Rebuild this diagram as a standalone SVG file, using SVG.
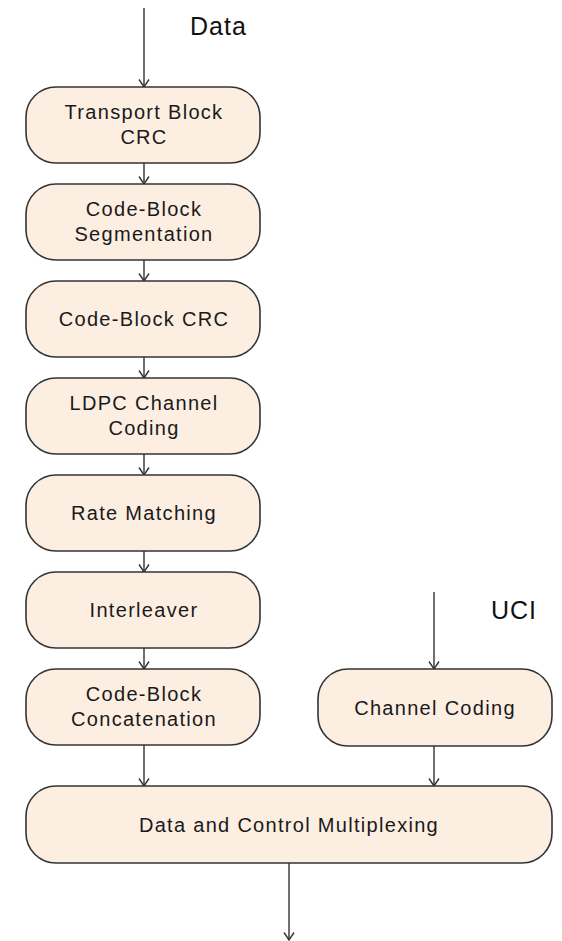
<svg xmlns="http://www.w3.org/2000/svg" width="562" height="941" viewBox="0 0 562 941">
<style>
.box{fill:#fdeee2;stroke:#333;stroke-width:1.6}
.t{font-family:"Liberation Sans",Arial,sans-serif;font-size:20px;letter-spacing:1.3px;fill:#1a1a1a;text-anchor:middle}
.lbl{font-family:"Liberation Sans",Arial,sans-serif;font-size:25px;letter-spacing:1px;fill:#111}
.c{stroke:#333;stroke-width:1.4;fill:none;marker-end:url(#ah)}
</style>
<defs>
<marker id="ah" markerWidth="10" markerHeight="12" refX="8.5" refY="6" markerUnits="userSpaceOnUse" orient="auto" viewBox="0 0 10 12">
<path d="M1,1 L8.5,6 L1,11" fill="none" stroke="#333" stroke-width="1.4"/>
</marker>
</defs>
<rect width="562" height="941" fill="#fff"/>
<text class="lbl" x="190" y="35">Data</text>
<text class="lbl" x="491" y="619">UCI</text>
<g id="connectors">
<line class="c" x1="144" y1="8" x2="144" y2="87"/>
<line class="c" x1="144" y1="163" x2="144" y2="184"/>
<line class="c" x1="144" y1="260" x2="144" y2="281"/>
<line class="c" x1="144" y1="357" x2="144" y2="378"/>
<line class="c" x1="144" y1="454" x2="144" y2="475"/>
<line class="c" x1="144" y1="551" x2="144" y2="572"/>
<line class="c" x1="144" y1="648" x2="144" y2="669"/>
<line class="c" x1="434" y1="592" x2="434" y2="669"/>
<line class="c" x1="144" y1="745" x2="144" y2="786"/>
<line class="c" x1="434" y1="746" x2="434" y2="786"/>
<line class="c" x1="289" y1="863" x2="289" y2="940"/>
</g>
<g id="n1"><rect class="box" x="26" y="87" width="234" height="76" rx="30"/><text class="t" x="144" y="119">Transport Block</text><text class="t" x="144" y="144">CRC</text></g>
<g id="n2"><rect class="box" x="26" y="184" width="234" height="76" rx="30"/><text class="t" x="144" y="216">Code-Block</text><text class="t" x="144" y="241">Segmentation</text></g>
<g id="n3"><rect class="box" x="26" y="281" width="234" height="76" rx="30"/><text class="t" x="144" y="326">Code-Block CRC</text></g>
<g id="n4"><rect class="box" x="26" y="378" width="234" height="76" rx="30"/><text class="t" x="144" y="410">LDPC Channel</text><text class="t" x="144" y="435">Coding</text></g>
<g id="n5"><rect class="box" x="26" y="475" width="234" height="76" rx="30"/><text class="t" x="144" y="520">Rate Matching</text></g>
<g id="n6"><rect class="box" x="26" y="572" width="234" height="76" rx="30"/><text class="t" x="144" y="617">Interleaver</text></g>
<g id="n7"><rect class="box" x="26" y="669" width="234" height="76" rx="30"/><text class="t" x="144" y="701">Code-Block</text><text class="t" x="144" y="726">Concatenation</text></g>
<g id="n8"><rect class="box" x="318" y="669" width="234" height="77" rx="30"/><text class="t" x="435" y="715">Channel Coding</text></g>
<g id="n9"><rect class="box" x="26" y="786" width="526" height="77" rx="30"/><text class="t" x="289" y="832">Data and Control Multiplexing</text></g>
</svg>
